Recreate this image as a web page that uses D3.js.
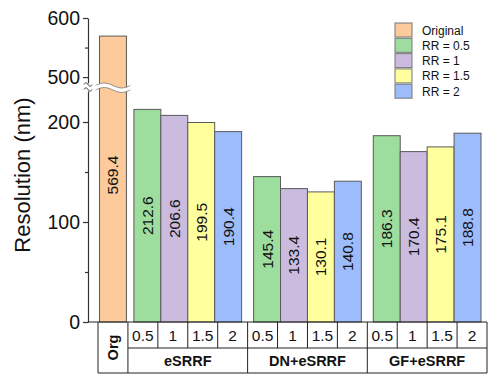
<!DOCTYPE html>
<html>
<head>
<meta charset="utf-8">
<script src="https://cdn.jsdelivr.net/npm/d3@7"></script>
<style>
  body { margin: 0; background: #fff; }
  svg { display: block; font-family: "Liberation Sans", Arial, sans-serif; }
</style>
</head>
<body>
<div id="chart"></div>
<script>
// data
const groups = ["eSRRF", "DN+eSRRF", "GF+eSRRF"];
const rrLevels = ["0.5", "1", "1.5", "2"];
const originalValue = 569.4;
const esrrfValues = [212.6, 206.6, 199.5, 190.4];
const dnValues = [145.4, 133.4, 130.1, 140.8];
const gfValues = [186.3, 170.4, 175.1, 188.8];
const legendLabels = ["Original", "RR = 0.5", "RR = 1", "RR = 1.5", "RR = 2"];
const colors = ["#fdca9b", "#9ddd9d", "#cbbbdf", "#ffff9e", "#9dbcfb"];
const lowerTicks = [0, 100, 200];
const lowerMinor = [50, 150];
const upperTicks = [500, 600];
const upperMinor = [550];

const W = 499, H = 385;
const axisX = 88;
const tableTop = 322, rowMid = 348, tableBottom = 373;
const tableLeft = 98, tableRight = 487;
const breakTop = 84, breakBottom = 91;

const svg = d3.select("#chart").append("svg")
  .attr("width", W).attr("height", H);

// broken y scale: lower part and upper part
const yLow = d3.scaleLinear().domain([0, 231]).range([tableTop, breakBottom]);
const yHigh = d3.scaleLinear().domain([490, 600]).range([breakTop - 1, 18]);

// x: 13 slots (Org + 3 groups x 4)
const slotKeys = ["Org"];
groups.forEach(g => rrLevels.forEach(r => slotKeys.push(g + "|" + r)));
const xSlot = d3.scaleBand().domain(slotKeys).range([tableLeft, tableRight]).padding(0);
const sw = xSlot.bandwidth();

const barData = [];
// Org bar
barData.push({ key: "Org", value: originalValue, color: colors[0],
  x0: xSlot("Org") + sw * 0.05, w: sw * 0.9 });
const allValues = [esrrfValues, dnValues, gfValues];
groups.forEach((g, gi) => {
  const gx0 = xSlot(g + "|" + rrLevels[0]);
  const gx1 = xSlot(g + "|" + rrLevels[3]) + sw;
  const gw = gx1 - gx0;
  const inner = d3.scaleBand().domain(rrLevels).range([gx0 + gw * 0.05, gx1 - gw * 0.05]).padding(0);
  rrLevels.forEach((r, ri) => {
    barData.push({ key: g + "|" + r, value: allValues[gi][ri], color: colors[ri + 1],
      x0: inner(r), w: inner.bandwidth() });
  });
});

const yOf = v => v > 400 ? yHigh(v) : yLow(v);

const bars = svg.append("g");
bars.selectAll("rect").data(barData).join("rect")
  .attr("x", d => d.x0).attr("width", d => d.w)
  .attr("y", d => yOf(d.value))
  .attr("height", d => tableTop - yOf(d.value))
  .attr("fill", d => d.color)
  .attr("stroke", "#5a5a5a").attr("stroke-width", 1);

// break band across the Org bar
const org = barData[0];
const wave = (x0, x1, yc, amp) => {
  const pts = d3.range(0, 21).map(i => {
    const t = i / 20;
    return [x0 + (x1 - x0) * t, yc - amp * Math.sin(t * 2 * Math.PI)];
  });
  return pts;
};
const wx0 = org.x0 - 4, wx1 = org.x0 + org.w + 4;
const topWave = wave(wx0, wx1, breakTop + 1.5, 2.5);
const botWave = wave(wx0, wx1, breakBottom - 1, 2.5);
const line = d3.line().curve(d3.curveBasis);
svg.append("path")
  .attr("d", line(topWave) + "L" + botWave.slice().reverse().map(p => p.join(",")).join("L") + "Z")
  .attr("fill", "#fff").attr("stroke", "none");
svg.append("path").attr("d", line(topWave)).attr("fill", "none").attr("stroke", "#777").attr("stroke-width", 0.8);
svg.append("path").attr("d", line(botWave)).attr("fill", "none").attr("stroke", "#777").attr("stroke-width", 0.8);

// value labels
svg.append("g").selectAll("text").data(barData).join("text")
  .attr("transform", d => {
    const cy = (tableTop + yOf(d.value)) / 2 - (d.key === "Org" ? 4 : 0);
    return `translate(${d.x0 + d.w / 2 + 5.5},${cy}) rotate(-90)`;
  })
  .attr("text-anchor", "middle")
  .attr("font-size", 15.5)
  .attr("fill", "#111")
  .text(d => d.value.toFixed(1));

// y axes
const styleAxis = g => {
  g.selectAll("path.domain").attr("stroke", "#333").attr("stroke-width", 1.2);
  g.selectAll(".tick line").attr("stroke", "#333").attr("stroke-width", 1.2);
  g.selectAll(".tick text").attr("font-size", 19.5).attr("fill", "#111")
    .attr("font-family", "Liberation Sans, Arial, sans-serif");
};
svg.append("g").attr("transform", `translate(${axisX},0)`)
  .call(d3.axisLeft(yLow).tickValues(lowerTicks).tickSize(5).tickSizeOuter(0).tickPadding(3))
  .call(styleAxis);
svg.append("g").attr("transform", `translate(${axisX},0)`)
  .call(d3.axisLeft(yHigh).tickValues(upperTicks).tickSize(5).tickSizeOuter(0).tickPadding(3))
  .call(styleAxis);
svg.append("g").attr("transform", `translate(${axisX},0)`)
  .call(d3.axisLeft(yLow).tickValues(lowerMinor).tickSize(3).tickSizeOuter(0).tickFormat(""))
  .call(styleAxis).call(g => g.select("path.domain").remove());
svg.append("g").attr("transform", `translate(${axisX},0)`)
  .call(d3.axisLeft(yHigh).tickValues(upperMinor).tickSize(3).tickSizeOuter(0).tickFormat(""))
  .call(styleAxis).call(g => g.select("path.domain").remove());

// axis break marks
[breakTop + 0.5, breakBottom - 1.5].forEach(yc => {
  svg.append("path")
    .attr("d", line(wave(axisX - 4, axisX + 4, yc, 1.8)))
    .attr("fill", "none").attr("stroke", "#333").attr("stroke-width", 1);
});

// y title
svg.append("text")
  .attr("transform", `translate(30,175) rotate(-90)`)
  .attr("text-anchor", "middle")
  .attr("font-size", 22)
  .attr("fill", "#111")
  .text("Resolution (nm)");

// category table under the bars
const tbl = svg.append("g").attr("stroke", "#222").attr("stroke-width", 1).attr("fill", "none");
tbl.append("line").attr("x1", axisX).attr("x2", tableRight).attr("y1", tableTop).attr("y2", tableTop);
tbl.append("line").attr("x1", tableLeft).attr("x2", tableRight).attr("y1", tableBottom).attr("y2", tableBottom);
tbl.append("line").attr("x1", xSlot(slotKeys[1])).attr("x2", tableRight).attr("y1", rowMid).attr("y2", rowMid);
tbl.append("line").attr("x1", tableLeft).attr("x2", tableLeft).attr("y1", tableTop).attr("y2", tableBottom);
tbl.append("line").attr("x1", tableRight).attr("x2", tableRight).attr("y1", tableTop).attr("y2", tableBottom);
slotKeys.slice(1).forEach(k => {
  const isGroupStart = k.endsWith("|" + rrLevels[0]);
  tbl.append("line").attr("x1", xSlot(k)).attr("x2", xSlot(k))
    .attr("y1", tableTop).attr("y2", isGroupStart ? tableBottom : rowMid);
});

svg.append("g").selectAll("text").data(slotKeys.slice(1)).join("text")
  .attr("x", d => xSlot(d) + sw / 2)
  .attr("y", (tableTop + rowMid) / 2 + 5.5)
  .attr("text-anchor", "middle").attr("font-size", 15.5).attr("fill", "#111")
  .text(d => d.split("|")[1]);

svg.append("g").selectAll("text").data(groups).join("text")
  .attr("x", g => (xSlot(g + "|" + rrLevels[0]) + xSlot(g + "|" + rrLevels[3]) + sw) / 2)
  .attr("y", (rowMid + tableBottom) / 2 + 5)
  .attr("text-anchor", "middle").attr("font-size", 14.5).attr("font-weight", "bold").attr("fill", "#111")
  .text(g => g);

svg.append("text")
  .attr("transform", `translate(${xSlot("Org") + sw / 2 + 5},${(tableTop + tableBottom) / 2}) rotate(-90)`)
  .attr("text-anchor", "middle").attr("font-size", 14.5).attr("font-weight", "bold").attr("fill", "#111")
  .text("Org");

// legend
const legend = svg.append("g").attr("transform", "translate(395,23)");
const lg = legend.selectAll("g").data(legendLabels).join("g")
  .attr("transform", (d, i) => `translate(0,${i * 15.3})`);
lg.append("rect").attr("width", 17).attr("height", 14)
  .attr("fill", (d, i) => colors[i]).attr("stroke", "#777").attr("stroke-width", 1);
lg.append("text").attr("x", 27).attr("y", 11.5)
  .attr("font-size", 12).attr("fill", "#111").text(d => d);
</script>
</body>
</html>
